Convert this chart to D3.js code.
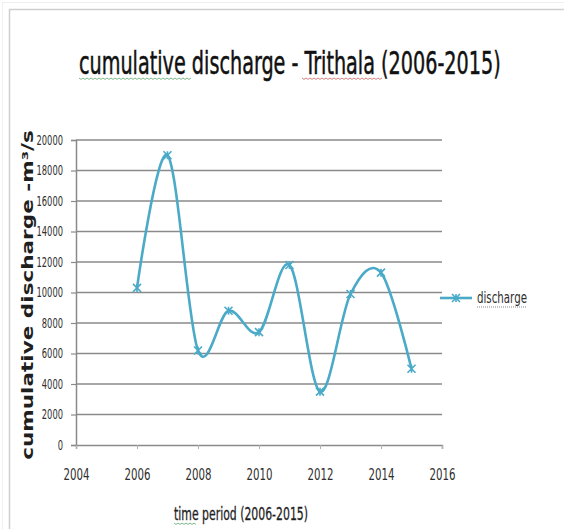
<!DOCTYPE html>
<html>
<head>
<meta charset="utf-8">
<script src="https://cdn.jsdelivr.net/npm/d3@7/dist/d3.min.js"></script>
<style>
  html, body { margin: 0; padding: 0; background: #fff; }
  svg { display: block; }
</style>
</head>
<body>
<svg id="chart" width="564" height="529"></svg>
<script>
// Yearly cumulative discharge, Trithala
const years = [2006, 2007, 2008, 2009, 2010, 2011, 2012, 2013, 2014, 2015];
const discharge = [10300, 19000, 6200, 8800, 7400, 11800, 3500, 9900, 11300, 5000];
const yTicks = [0, 2000, 4000, 6000, 8000, 10000, 12000, 14000, 16000, 18000, 20000];
const xTicks = [2004, 2006, 2008, 2010, 2012, 2014, 2016];
const seriesName = "discharge";
const chartTitle = "cumulative discharge - Trithala (2006-2015)";
const xTitle = "time period (2006-2015)";
const yTitle = "cumulative discharge -m\u00B3/s";

const svg = d3.select("#chart");
const narrow = "'Liberation Sans Narrow', 'DejaVu Sans Condensed', 'Liberation Sans', sans-serif";
const lineColor = "#4aaac8";
const gridColor = "#8a8a8a";

// chart area frame
svg.append("rect").attr("x", 2.5).attr("y", 2.5).attr("width", 600).attr("height", 600)
  .attr("fill", "none").attr("stroke", "#efefef").attr("stroke-width", 1);
svg.append("rect").attr("x", 9.5).attr("y", 9.5).attr("width", 600).attr("height", 600)
  .attr("fill", "#fff").attr("stroke", "#cfcfcf").attr("stroke-width", 1.5);

const plot = { left: 76, right: 442, top: 140, bottom: 445 };
const x = d3.scaleLinear().domain([2004, 2016]).range([plot.left, plot.right]);
const y = d3.scaleLinear().domain([0, 20000]).range([plot.bottom, plot.top]);

// horizontal gridlines
svg.append("g").selectAll("line").data(yTicks.filter(d => d > 0)).join("line")
  .attr("x1", plot.left).attr("x2", plot.right)
  .attr("y1", d => y(d)).attr("y2", d => y(d))
  .attr("stroke", gridColor).attr("stroke-width", 1.5);

// y axis
const yAxis = svg.append("g").attr("transform", `translate(${plot.left},0)`)
  .call(d3.axisLeft(y).tickValues(yTicks).tickSize(5).tickPadding(8).tickFormat(d3.format("d")));
yAxis.select(".domain").attr("stroke", gridColor).attr("stroke-width", 1.5);
yAxis.selectAll(".tick line").attr("stroke", gridColor).attr("stroke-width", 1.2);
yAxis.selectAll(".tick text").attr("fill", "#2e2e2e")
  .style("font-family", narrow).style("font-size", "14px")
  .attr("textLength", function (d) { return String(d).length * 5.3; })
  .attr("lengthAdjust", "spacingAndGlyphs");

// x axis
const xAxis = svg.append("g").attr("transform", `translate(0,${plot.bottom})`)
  .call(d3.axisBottom(x).tickValues(xTicks).tickSize(4).tickPadding(20).tickFormat(d3.format("d")));
xAxis.select(".domain").attr("stroke", gridColor).attr("stroke-width", 1.5);
xAxis.selectAll(".tick line").attr("stroke", "#b0b0b0").attr("stroke-width", 1);
xAxis.selectAll(".tick text").attr("fill", "#2e2e2e")
  .style("font-family", narrow).style("font-size", "15px")
  .attr("textLength", 26).attr("lengthAdjust", "spacingAndGlyphs");

// smoothed series line
const pts = years.map((yr, i) => [yr, discharge[i]]);
const line = d3.line().x(d => x(d[0])).y(d => y(d[1])).curve(d3.curveCardinal.tension(0));
svg.append("path").datum(pts).attr("d", line)
  .attr("fill", "none").attr("stroke", lineColor).attr("stroke-width", 2.6)
  .attr("stroke-linejoin", "round");

// star markers
function star(g, cx, cy, r) {
  const p = `M${cx - r},${cy - r}L${cx + r},${cy + r}M${cx - r},${cy + r}L${cx + r},${cy - r}M${cx},${cy - r}L${cx},${cy + r}`;
  g.append("path").attr("d", p).attr("stroke", lineColor).attr("stroke-width", 1.6).attr("fill", "none");
}
const markers = svg.append("g");
pts.forEach(d => star(markers, x(d[0]), y(d[1]), 4));

// wavy proofing underline
function squiggle(x0, x1, yy, color) {
  let d = `M${x0},${yy}`;
  for (let xx = x0, k = 0; xx < x1; xx += 2, k++) d += `L${xx + 2},${yy + (k % 2 ? 0 : 1.4)}`;
  svg.append("path").attr("d", d).attr("fill", "none").attr("stroke", color).attr("stroke-width", 0.9).attr("opacity", 0.8);
}

// place a text at (tx, ty), squeezed horizontally to a given width
function fitText(parent, str, tx, ty, width, rotate, anchor) {
  const t = parent.append("text").attr("x", 0).attr("y", 0)
    .attr("text-anchor", anchor || "start").text(str);
  return {
    node: t,
    apply() {
      const w = t.node().getComputedTextLength();
      const sx = width / w;
      t.attr("transform", `translate(${tx},${ty})${rotate ? " rotate(" + rotate + ")" : ""} scale(${sx},1)`);
      return t;
    }
  };
}

// chart title
const title = fitText(svg, chartTitle, 79, 74, 422);
title.node.attr("fill", "#111").attr("stroke", "#111").attr("stroke-width", 0.5)
  .style("font-family", narrow).style("font-size", "32px");
title.apply();
squiggle(79, 190, 78, "#4a9a5a");
squiggle(302, 382, 78, "#c0504d");

// y axis title
const yT = fitText(svg, yTitle, 33, 295, 330, -90, "middle");
yT.node.attr("fill", "#1f1f1f").style("font-family", "'DejaVu Sans', sans-serif")
  .style("font-size", "16px").style("font-weight", "bold");
yT.apply();

// x axis title
const xT = fitText(svg, xTitle, 241, 520, 134, 0, "middle");
xT.node.attr("fill", "#1e1e1e").attr("stroke", "#1e1e1e").attr("stroke-width", 0.3)
  .style("font-family", narrow).style("font-size", "18px");
xT.apply();
squiggle(174, 196, 523, "#4a9a5a");

// legend
const lg = svg.append("g").attr("transform", "translate(440,298)");
lg.append("line").attr("x1", 0).attr("x2", 32).attr("y1", 0).attr("y2", 0)
  .attr("stroke", lineColor).attr("stroke-width", 2.6);
star(lg, 16, 0, 4);
const lgT = fitText(lg, seriesName, 37, 5, 50);
lgT.node.attr("fill", "#2e2e2e").style("font-family", narrow).style("font-size", "15px");
lgT.apply();
lg.append("line").attr("x1", 37).attr("x2", 87).attr("y1", 9).attr("y2", 9)
  .attr("stroke", "#6a6a6a").attr("stroke-width", 0.8).attr("stroke-dasharray", "1,1");
</script>
</body>
</html>
